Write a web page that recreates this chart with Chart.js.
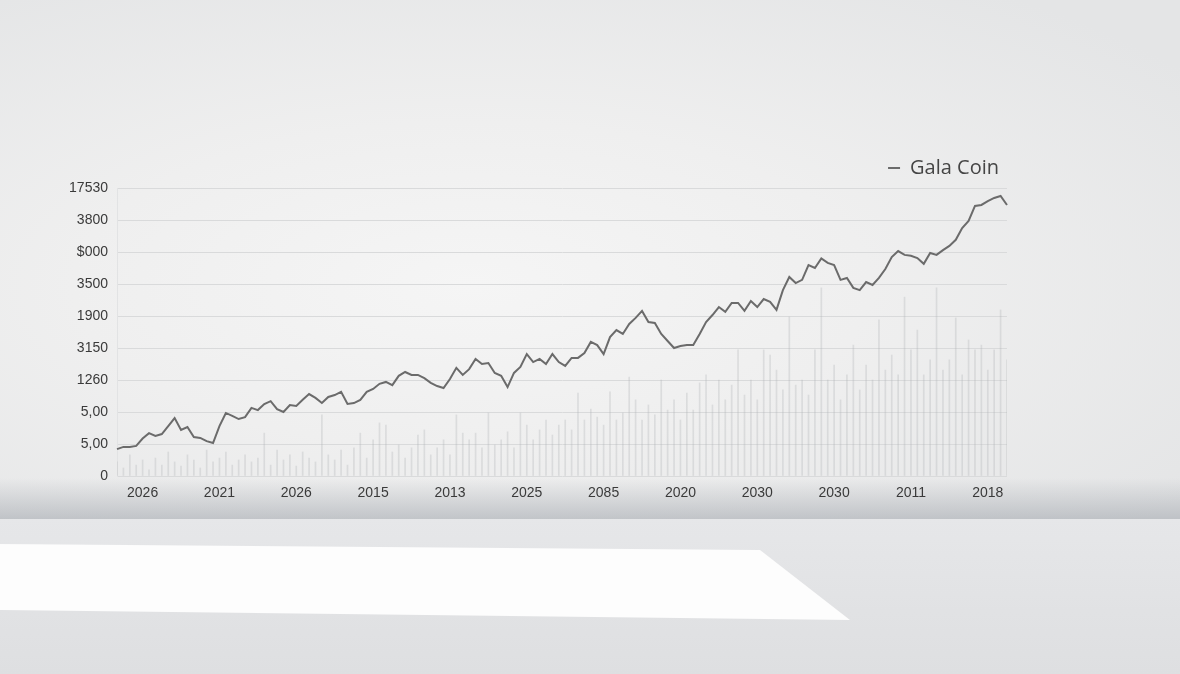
<!DOCTYPE html>
<html>
<head>
<meta charset="utf-8">
<script src="https://cdn.jsdelivr.net/npm/chart.js@4.4.1/dist/chart.umd.min.js"></script>
<style>
    html, body {
        margin: 0;
        padding: 0;
    }
    body {
        width: 1180px;
        height: 674px;
        overflow: hidden;
        position: relative;
        background: #dfe0e2;
    }
    #wall {
        position: absolute;
        left: 0; top: 0;
        width: 1180px; height: 519px;
        background:
            linear-gradient(to bottom, rgba(160,165,172,0) 0px, rgba(160,165,172,0) 478px, rgba(160,165,172,0.55) 519px),
            radial-gradient(ellipse 75% 70% at 40% 55%, #f5f5f5 0%, #efefef 45%, #e4e5e6 100%);
    }
    #floor {
        position: absolute;
        left: 0; top: 519px;
        width: 1180px; height: 155px;
        background: linear-gradient(to bottom, #e6e7e9 0%, #e1e2e4 60%, #dedfe1 100%);
    }
    #streak {
        position: absolute;
        left: -10px; top: 540px;
        width: 880px; height: 86px;
        background: #fdfdfd;
        clip-path: polygon(0 4px, 770px 10px, 860px 80px, 0 70px);
        filter: blur(2px);
    }
    #chartBox {
        position: absolute;
        left: 0; top: 0;
        width: 1180px; height: 674px;
    }
</style>
</head>
<body>
<div id="wall"></div>
<div id="floor"></div>
<div id="streak"></div>
<div id="chartBox"><canvas id="chartGala"></canvas></div>

<script>
// Tick labels as printed on the chart
const yTickLabels = ['0', '5,00', '5,00', '1260', '3150', '1900', '3500', '$000', '3800', '17530'];
const xTickLabels = ['2026', '2021', '2026', '2015', '2013', '2025', '2085', '2020', '2030', '2030', '2011', '2018'];

// Price line (in grid steps, 0 = bottom line, 9 = top line)
const galaPrice = [
    0.84, 0.91, 0.91, 0.94, 1.17, 1.34, 1.25, 1.31, 1.56, 1.81,
    1.44, 1.53, 1.22, 1.19, 1.09, 1.03, 1.56, 1.97, 1.88, 1.78,
    1.84, 2.13, 2.06, 2.25, 2.34, 2.09, 2.00, 2.22, 2.19, 2.38,
    2.56, 2.44, 2.28, 2.47, 2.53, 2.63, 2.25, 2.28, 2.38, 2.63,
    2.72, 2.88, 2.94, 2.84, 3.13, 3.25, 3.16, 3.16, 3.06, 2.91,
    2.81, 2.75, 3.03, 3.38, 3.16, 3.34, 3.66, 3.50, 3.53, 3.22,
    3.13, 2.78, 3.22, 3.41, 3.81, 3.56, 3.66, 3.50, 3.81, 3.56,
    3.44, 3.69, 3.69, 3.84, 4.19, 4.09, 3.81, 4.34, 4.56, 4.44,
    4.75, 4.94, 5.16, 4.81, 4.78, 4.44, 4.22, 4.00, 4.06, 4.09,
    4.09, 4.44, 4.81, 5.03, 5.28, 5.13, 5.41, 5.41, 5.16, 5.47,
    5.28, 5.53, 5.44, 5.19, 5.81, 6.22, 6.03, 6.13, 6.59, 6.50,
    6.80, 6.66, 6.59, 6.13, 6.19, 5.88, 5.81, 6.06, 5.97, 6.19,
    6.47, 6.84, 7.03, 6.91, 6.88, 6.81, 6.63, 6.97, 6.91, 7.06,
    7.19, 7.38, 7.75, 7.97, 8.44, 8.47, 8.59, 8.69, 8.75, 8.47
];

// Faint volume bars behind the line
const galaVolume = [
    0.44, 0.25, 0.66, 0.34, 0.50, 0.19, 0.56, 0.34, 0.75, 0.44,
    0.31, 0.66, 0.50, 0.25, 0.81, 0.44, 0.56, 0.75, 0.34, 0.50,
    0.66, 0.44, 0.56, 1.34, 0.34, 0.81, 0.50, 0.66, 0.31, 0.75,
    0.56, 0.44, 1.91, 0.66, 0.50, 0.81, 0.34, 0.88, 1.34, 0.56,
    1.13, 1.66, 1.59, 0.75, 0.97, 0.56, 0.88, 1.28, 1.44, 0.66,
    0.88, 1.13, 0.66, 1.91, 1.34, 1.13, 1.34, 0.88, 1.97, 0.97,
    1.13, 1.38, 0.88, 1.97, 1.59, 1.13, 1.44, 1.75, 1.28, 1.59,
    1.75, 1.44, 2.59, 1.75, 2.09, 1.84, 1.59, 2.63, 1.75, 1.97,
    3.09, 2.38, 1.75, 2.22, 1.91, 3.00, 2.06, 2.38, 1.75, 2.59,
    2.06, 2.91, 3.16, 2.22, 3.00, 2.38, 2.84, 3.94, 2.53, 3.00,
    2.38, 3.94, 3.78, 3.31, 2.69, 4.97, 2.84, 3.00, 2.53, 3.94,
    5.88, 3.00, 3.47, 2.38, 3.16, 4.09, 2.69, 3.47, 3.00, 4.88,
    3.31, 3.78, 3.16, 5.59, 3.94, 4.56, 3.16, 3.63, 5.88, 3.31,
    3.63, 4.94, 3.16, 4.25, 3.94, 4.09, 3.31, 3.94, 5.19, 3.63
];

// one category per point, year label every 12 points starting at 4
const categories = galaPrice.map(function (v, i) {
    return (i - 4) % 12 === 0 && i >= 4 ? xTickLabels[(i - 4) / 12] : '';
});

new Chart(document.getElementById('chartGala'), {
    data: {
        labels: categories,
        datasets: [{
            type: 'line',
            label: 'Gala Coin',
            data: galaPrice,
            borderColor: '#6b6b6b',
            backgroundColor: '#6b6b6b',
            borderWidth: 2,
            pointRadius: 0,
            tension: 0,
            fill: false,
            order: 1
        }, {
            type: 'bar',
            label: 'volume',
            data: galaVolume,
            backgroundColor: 'rgba(172, 175, 180, 0.3)',
            barThickness: 1,
            order: 2
        }]
    },
    options: {
        responsive: true,
        maintainAspectRatio: false,
        animation: false,
        layout: {
            padding: { left: 0, right: 173, top: 150, bottom: 166 }
        },
        plugins: {
            tooltip: { enabled: false },
            legend: {
                position: 'top',
                align: 'end',
                labels: {
                    filter: function (item) { return item.text === 'Gala Coin'; },
                    usePointStyle: true,
                    pointStyle: 'line',
                    pointStyleWidth: 12,
                    boxWidth: 12,
                    boxHeight: 12,
                    padding: 8,
                    color: '#454545',
                    font: { family: 'Open Sans', size: 20 }
                }
            }
        },
        scales: {
            x: {
                offset: false,
                grid: { display: false, drawTicks: false },
                border: { display: false },
                afterFit: function (s) { s.height = 32; },
                ticks: {
                    autoSkip: false,
                    maxRotation: 0,
                    padding: 9,
                    color: '#3a3a3a',
                    font: { family: 'Liberation Sans', size: 14 }
                }
            },
            y: {
                min: 0,
                max: 9,
                afterFit: function (s) { s.width = 117; },
                grid: {
                    color: '#d9dadb',
                    lineWidth: 1,
                    drawTicks: false
                },
                border: { display: true, color: '#e2e3e4' },
                ticks: {
                    stepSize: 1,
                    padding: 9,
                    color: '#3a3a3a',
                    font: { family: 'Liberation Sans', size: 14 },
                    callback: function (value) { return yTickLabels[value]; }
                }
            }
        }
    }
});
</script>
</body>
</html>
